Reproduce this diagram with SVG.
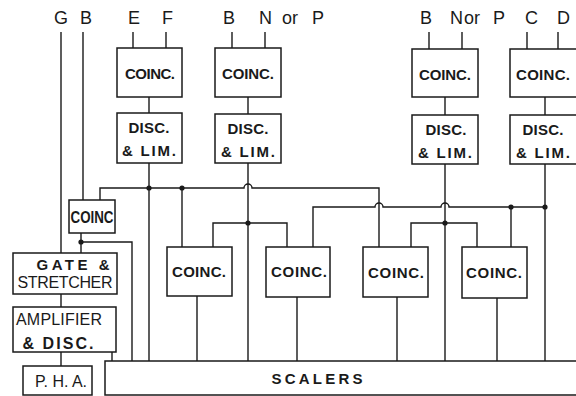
<svg xmlns="http://www.w3.org/2000/svg" width="576" height="396" viewBox="0 0 576 396">
<style>
.b{fill:#fff;stroke:#1a1a1a;stroke-width:1.5}
.w{fill:none;stroke:#1a1a1a;stroke-width:1.4}
.d{fill:#1a1a1a}
.t{font-family:"Liberation Sans",Arial,sans-serif;font-size:15px;font-weight:bold;fill:#1a1a1a;text-anchor:middle}
.L{font-family:"Liberation Sans",Arial,sans-serif;font-size:18px;fill:#1a1a1a}
</style>
<rect width="576" height="396" fill="#fff"/>
<g id="labels">
<text class="L" x="54" y="24">G</text>
<text class="L" x="80" y="24">B</text>
<text class="L" x="128" y="24">E</text>
<text class="L" x="162" y="24">F</text>
<text class="L" x="223" y="24">B</text>
<text class="L" x="259" y="24">N</text>
<text class="L" x="282" y="24">or</text>
<text class="L" x="312" y="24">P</text>
<text class="L" x="420" y="24">B</text>
<text class="L" x="450" y="24">N</text>
<text class="L" x="464" y="24">or</text>
<text class="L" x="493" y="24">P</text>
<text class="L" x="525" y="24">C</text>
<text class="L" x="557" y="24">D</text>
</g>
<g id="connectors">
<path class="w" d="M61 32V253M83 32V200M133 32V48M166 32V48M232 32V48M265 32V48M429 32V49M462 32V49M527 32V49M558 32V49"/>
<path class="w" d="M149 97V113M248 97V114M445 97V115M545 97V115"/>
<path class="w" d="M149 163V361M248 163V361M445 164V361M545 164V361"/>
<path class="w" d="M100 200V188H244a4 4 0 0 1 8 0H379V247"/>
<path class="w" d="M182 188V247"/>
<path class="w" d="M313 247V207H375a4 4 0 0 1 8 0H441a4 4 0 0 1 8 0H545"/>
<path class="w" d="M511 207V247"/>
<path class="w" d="M213 247V223H287V247"/>
<path class="w" d="M411 247V223H477V247"/>
<path class="w" d="M197 296V361M297 297V361M397 297V361M497 298V361"/>
<path class="w" d="M81 233V253M81 242H132V361"/>
<path class="w" d="M61 294V307M61 352V366M112 352V361"/>
<circle class="d" cx="149" cy="188" r="2.6"/>
<circle class="d" cx="182" cy="188" r="2.6"/>
<circle class="d" cx="248" cy="223" r="2.6"/>
<circle class="d" cx="445" cy="223" r="2.6"/>
<circle class="d" cx="511" cy="207" r="2.6"/>
<circle class="d" cx="545" cy="207" r="2.6"/>
<circle class="d" cx="81" cy="242" r="2.6"/>
</g>
<g id="coinc1"><rect class="b" x="117" y="48" width="65" height="49"/><text class="t" x="150" y="79" textLength="50">COINC.</text></g>
<g id="coinc2"><rect class="b" x="215" y="48" width="66" height="49"/><text class="t" x="248" y="79" textLength="52">COINC.</text></g>
<g id="coinc3"><rect class="b" x="412" y="49" width="66" height="48"/><text class="t" x="445" y="80" textLength="52">COINC.</text></g>
<g id="coinc4"><rect class="b" x="510" y="49" width="68" height="48"/><text class="t" x="543" y="80" textLength="54">COINC.</text></g>
<g id="disc1"><rect class="b" x="117" y="113" width="65" height="50"/><text class="t" x="149" y="133" textLength="41">DISC.</text><text class="t" x="149" y="156" textLength="54">&amp; LIM.</text></g>
<g id="disc2"><rect class="b" x="215" y="114" width="66" height="49"/><text class="t" x="248" y="134" textLength="41">DISC.</text><text class="t" x="248" y="157" textLength="54">&amp; LIM.</text></g>
<g id="disc3"><rect class="b" x="412" y="115" width="66" height="49"/><text class="t" x="446" y="135" textLength="41">DISC.</text><text class="t" x="445" y="158" textLength="54">&amp; LIM.</text></g>
<g id="disc4"><rect class="b" x="510" y="115" width="68" height="49"/><text class="t" x="543" y="135" textLength="41">DISC.</text><text class="t" x="543" y="158" textLength="54">&amp; LIM.</text></g>
<g id="coincA"><rect class="b" x="167" y="247" width="65" height="49"/><text class="t" x="199" y="277" textLength="54">COINC.</text></g>
<g id="coincB"><rect class="b" x="266" y="247" width="64" height="50"/><text class="t" x="299" y="277" textLength="56">COINC.</text></g>
<g id="coincC"><rect class="b" x="363" y="247" width="65" height="50"/><text class="t" x="396" y="278" textLength="56">COINC.</text></g>
<g id="coincD"><rect class="b" x="462" y="247" width="65" height="51"/><text class="t" x="494" y="278" textLength="56">COINC.</text></g>
<g id="coincG"><rect class="b" x="69" y="200" width="46" height="33"/><text class="t" x="92" y="223" textLength="43" lengthAdjust="spacingAndGlyphs" style="font-size:16px">COINC</text></g>
<g id="gate"><rect class="b" x="13" y="253" width="104" height="41"/><text class="t" x="73" y="270" textLength="73">GATE &amp;</text><text class="t" x="65" y="288" textLength="95" style="font-weight:normal;font-size:16px">STRETCHER</text></g>
<g id="amp"><rect class="b" x="13" y="307" width="103" height="45"/><text class="t" x="59" y="325" textLength="86" style="font-weight:normal;font-size:16px">AMPLIFIER</text><text class="t" x="58" y="349" textLength="71" style="font-size:16px">&amp; DISC.</text></g>
<g id="pha"><rect class="b" x="23" y="366" width="69" height="29"/><text class="t" x="61" y="387" textLength="52" style="font-weight:normal;font-size:16px">P. H. A.</text></g>
<g id="scalers"><rect class="b" x="105" y="361" width="480" height="34"/><text class="t" x="317" y="384" textLength="91">SCALERS</text></g>
</svg>
